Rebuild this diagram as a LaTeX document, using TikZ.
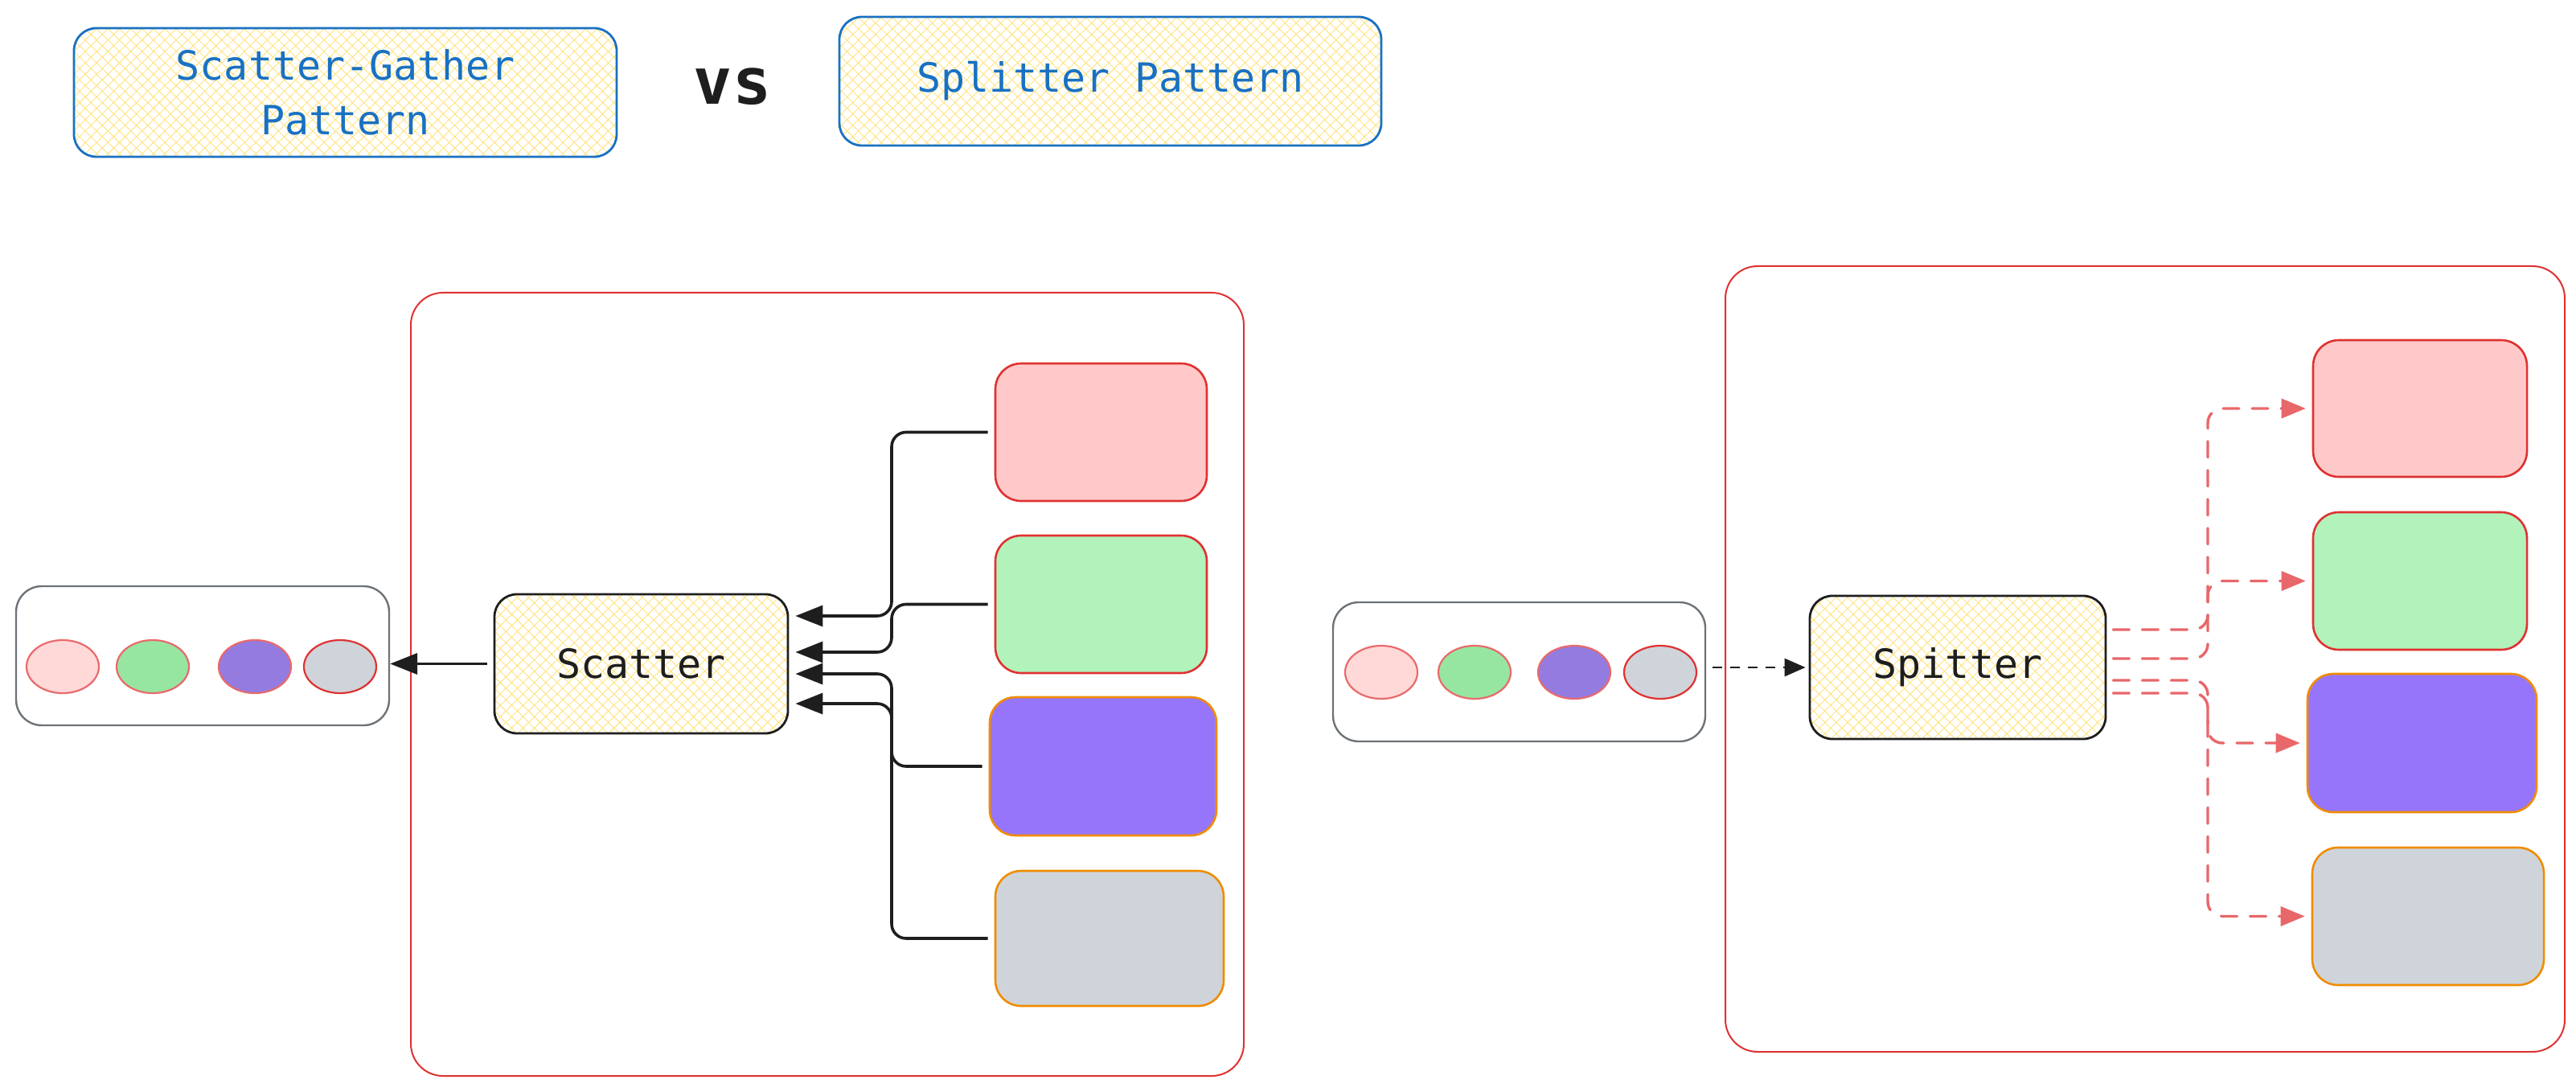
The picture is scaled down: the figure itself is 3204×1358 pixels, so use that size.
\documentclass[tikz,border=0pt]{standalone}
\usepackage{fontspec}
\setmainfont{DejaVu Sans Mono}
\usetikzlibrary{arrows.meta,shapes.geometric,fit,patterns.meta}
\definecolor{exred}{HTML}{E03131}
\definecolor{exorange}{HTML}{F08C00}
\definecolor{exblue}{HTML}{1971C2}
\definecolor{exblack}{HTML}{1E1E1E}
\definecolor{exgray}{HTML}{6C7378}
\definecolor{hatchy}{HTML}{FFE27A}
\definecolor{fpink}{HTML}{FFC9C9}
\definecolor{fgreen}{HTML}{B2F2BB}
\definecolor{fpurple}{HTML}{9775FA}
\definecolor{fgray}{HTML}{CED4DA}
\definecolor{cpink}{HTML}{FFD8D8}
\definecolor{cgreen}{HTML}{96E6A1}
\definecolor{cpurple}{HTML}{947BE0}
\definecolor{lred}{HTML}{E86A6C}
\definecolor{dred}{HTML}{E8676A}
\begin{document}
\begin{tikzpicture}[x=0.5pt,y=-0.5pt,
  hatchbox/.style={rounded corners=14pt, line width=1.4pt, inner sep=0pt,
    pattern={Hatch[angle=45,distance=5pt,line width=0.45pt]}, pattern color=hatchy},
  titlebox/.style={hatchbox, draw=exblue},
  titletext/.style={text=exblue, font=\fontsize{25}{34}\selectfont, align=center},
  procbox/.style={hatchbox, draw=exblack},
  proctext/.style={text=exblack, font=\fontsize{25}{30}\selectfont},
  container/.style={draw=exred, line width=1pt, rounded corners=20pt, inner sep=0pt},
  queuebox/.style={draw=exgray, line width=1.2pt, rounded corners=16pt, inner sep=0pt},
  worker/.style={line width=1.3pt, rounded corners=16pt, inner sep=0pt},
  msg/.style={ellipse, minimum width=45pt, minimum height=33pt, inner sep=0pt, line width=1.1pt},
  blkarrow/.style={draw=exblack, line width=1.8pt, rounded corners=9pt,
    -{Triangle[length=17pt,width=13pt]}},
  reddash/.style={draw=dred, line width=1.7pt, rounded corners=9pt, dash pattern=on 10pt off 8pt,
    line cap=round, -{Triangle[length=15pt,width=12pt]}},
  blkdash/.style={draw=exblack, line width=1.4pt, dash pattern=on 6pt off 5pt,
    -{Triangle[length=13pt,width=11pt]}}
]
\useasboundingbox (0,0) rectangle (3204,1358);

% titles
\node[titlebox, fit={(92,35) (767,195)},
  label={[titletext]center:Scatter-Gather\\Pattern}] (t1) {};
\node[font=\bfseries\fontsize{40}{40}\selectfont, text=exblack] (vs) at (911,108) {vs};
\node[titlebox, fit={(1044,21) (1718,181)},
  label={[titletext]center:Splitter Pattern}] (t2) {};

% left side
\node[container, fit={(511,364) (1547,1338)}] (lc) {};
\node[queuebox, fit={(20,729) (484,902)}] (q1) {};
\node[msg, draw=lred, fill=cpink] (l1) at (78,829) {};
\node[msg, draw=lred, fill=cgreen] (l2) at (190,829) {};
\node[msg, draw=lred, fill=cpurple] (l3) at (317,829) {};
\node[msg, draw=exred, fill=fgray] (l4) at (423,829) {};
\node[procbox, fit={(615,739) (980,912)}, label={[proctext]center:Scatter}] (sc) {};
\node[worker, draw=exred, fill=fpink, fit={(1238,452) (1501,623)}] (w1) {};
\node[worker, draw=exred, fill=fgreen, fit={(1238,666) (1501,837)}] (w2) {};
\node[worker, draw=exorange, fill=fpurple, fit={(1231,867) (1513,1039)}] (w3) {};
\node[worker, draw=exorange, fill=fgray, fit={(1238,1083) (1522,1251)}] (w4) {};

\coordinate (lx) at (1109,0);
\coordinate (a1) at (0,766);
\coordinate (a2) at (0,811);
\coordinate (a3) at (0,838);
\coordinate (a4) at (0,875);
\draw[blkarrow, shorten <=4pt, shorten >=4pt] (w1.west) -- (lx |- w1.west) |- (sc.east |- a1);
\draw[blkarrow, shorten <=4pt, shorten >=4pt] (w2.west) -- (lx |- w2.west) |- (sc.east |- a2);
\draw[blkarrow, shorten <=4pt, shorten >=4pt] (w3.west) -- (lx |- w3.west) |- (sc.east |- a3);
\draw[blkarrow, shorten <=4pt, shorten >=4pt] (w4.west) -- (lx |- w4.west) |- (sc.east |- a4);
\draw[blkarrow, shorten <=4pt] (sc.west) -- (sc.west -| q1.east);

% right side
\node[container, fit={(2146,331) (3190,1308)}] (rc) {};
\node[queuebox, fit={(1658,749) (2121,922)}] (q2) {};
\node[msg, draw=lred, fill=cpink] (m1) at (1718,836) {};
\node[msg, draw=lred, fill=cgreen] (m2) at (1834,836) {};
\node[msg, draw=lred, fill=cpurple] (m3) at (1958,836) {};
\node[msg, draw=exred, fill=fgray] (m4) at (2065,836) {};
\node[procbox, fit={(2251,741) (2619,919)}, label={[proctext]center:Spitter}] (sp) {};
\node[worker, draw=exred, fill=fpink, fit={(2877,423) (3143,593)}] (r1) {};
\node[worker, draw=exred, fill=fgreen, fit={(2877,637) (3143,808)}] (r2) {};
\node[worker, draw=exorange, fill=fpurple, fit={(2870,838) (3155,1010)}] (r3) {};
\node[worker, draw=exorange, fill=fgray, fit={(2876,1054) (3164,1225)}] (r4) {};

\coordinate (vx) at (2746,0);
\coordinate (b1) at (0,783);
\coordinate (b2) at (0,819);
\coordinate (b3) at (0,846);
\coordinate (b4) at (0,862);
\draw[reddash, shorten <=4pt, shorten >=4pt] (sp.east |- b1) -- (vx |- b1) |- (r1.west);
\draw[reddash, shorten <=4pt, shorten >=4pt] (sp.east |- b2) -- (vx |- b2) |- (r2.west);
\draw[reddash, shorten <=4pt, shorten >=4pt] (sp.east |- b3) -- (vx |- b3) |- (r3.west);
\draw[reddash, shorten <=4pt, shorten >=4pt] (sp.east |- b4) -- (vx |- b4) |- (r4.west);
\draw[blkdash, shorten <=4pt, shorten >=2pt] (q2.east |- sp.west) -- (sp.west);
\end{tikzpicture}
\end{document}
